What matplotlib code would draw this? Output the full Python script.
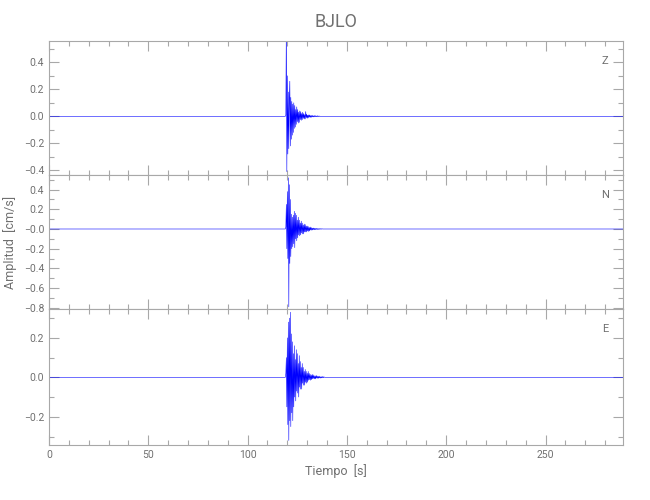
import numpy as np
import matplotlib
matplotlib.use('Agg')
import matplotlib.pyplot as plt
from matplotlib.ticker import MultipleLocator, FixedLocator, FixedFormatter

plt.rcParams['font.family'] = ['Roboto', 'DejaVu Sans']

# Traza: muestras cada 0.25 s a partir de t0 (amplitudes)
t0 = 119.0
dt = 0.25
t_fin = 289.0

z_amp = [0.0, 0.01, 0.70, -0.41,
         0.30, -0.28, 0.18, -0.24,
         0.12, 0.26, -0.22, 0.14,
         -0.17, 0.11, -0.14, 0.09,
         -0.12, 0.10, -0.09, 0.08,
         -0.08, 0.05, -0.06, 0.07,
         -0.04, 0.05, -0.05, 0.03,
         -0.045, 0.04, -0.025, 0.035,
         -0.03, 0.02, -0.025, 0.03,
         -0.015, 0.02, -0.02, 0.012,
         -0.02, 0.035, -0.01, 0.015,
         -0.015, 0.008, -0.012, 0.01,
         -0.006, 0.01, -0.008, 0.005,
         -0.008, 0.006, -0.004, 0.006,
         -0.005, 0.003, -0.004, 0.005,
         -0.003, 0.004, -0.003, 0.002,
         -0.003, 0.004, -0.002, 0.002,
         -0.002, 0.002, 0.0]

n_amp = [0.0, 0.02, 0.25, -0.20,
         0.38, -0.30, 0.52, -0.79,
         0.45, -0.35, 0.30, -0.28,
         0.15, -0.20, 0.12, -0.18,
         0.14, -0.15, 0.18, -0.19,
         0.16, -0.10, 0.14, -0.12,
         0.09, -0.09, 0.12, -0.06,
         0.09, -0.07, 0.06, -0.06,
         0.08, -0.04, 0.06, -0.05,
         0.04, -0.05, 0.05, -0.03,
         0.045, -0.03, 0.03, -0.03,
         0.03, -0.02, 0.025, -0.025,
         0.015, -0.02, 0.02, -0.01,
         0.015, -0.012, 0.008, -0.01,
         0.01, -0.006, 0.008, -0.008,
         0.005, -0.006, 0.006, -0.004,
         0.005, -0.005, 0.003, -0.004,
         0.004, -0.003, 0.003, -0.002,
         0.003, -0.002, 0.002, 0.0]

e_amp = [0.0, 0.02, 0.10, -0.15,
         0.20, -0.24, 0.28, -0.32,
         0.30, -0.22, 0.33, -0.25,
         0.22, -0.18, 0.18, -0.22,
         0.12, -0.15, 0.16, -0.10,
         0.09, -0.12, 0.14, -0.07,
         0.12, -0.08, 0.07, -0.10,
         0.11, -0.05, 0.08, -0.06,
         0.05, -0.06, 0.07, -0.03,
         0.05, -0.04, 0.03, -0.04,
         0.04, -0.025, 0.03, -0.03,
         0.02, -0.025, 0.03, -0.015,
         0.02, -0.012, 0.015, -0.015,
         0.01, -0.012, 0.015, -0.008,
         0.012, -0.006, 0.008, -0.008,
         0.005, -0.008, 0.01, -0.004,
         0.006, -0.005, 0.004, -0.005,
         0.006, -0.003, 0.003, -0.004,
         0.002, -0.003, 0.004, -0.002,
         0.003, -0.002, 0.002, 0.0]

componentes = ['Z', 'N', 'E']
trazas = [z_amp, n_amp, e_amp]
ylims = [(-0.435, 0.56), (-0.812, 0.548), (-0.343, 0.346)]
yticks = [[-0.4, -0.2, 0.0, 0.2, 0.4],
          [-0.8, -0.6, -0.4, -0.2, 0.0, 0.2, 0.4],
          [-0.2, 0.0, 0.2]]
ylabels = [['\u22120.4', '\u22120.2', '0.0', '0.2', '0.4'],
           ['\u22120.8', '\u22120.6', '\u22120.4', '\u22120.2', '\u22120.0', '0.2', '0.4'],
           ['\u22120.2', '0.0', '0.2']]
xtick_vals = [0, 50, 100, 150, 200, 250]

gris_txt = '#707070'
gris_eje = '#a8a8a8'

fig = plt.figure(figsize=(6.5, 5), dpi=100)
posiciones = [[0.0754, 0.650, 0.883, 0.2686],
              [0.0754, 0.382, 0.883, 0.268],
              [0.0754, 0.110, 0.883, 0.272]]

for i in range(3):
    ax = fig.add_axes(posiciones[i])
    amp = np.array(trazas[i])
    t = t0 + dt*np.arange(len(amp))
    tt = np.concatenate(([0.0], t, [t_fin]))
    aa = np.concatenate(([0.0], amp, [0.0]))
    ax.plot(tt, aa, color='#0000ff', lw=0.4)
    ax.set_xlim(0, t_fin)
    ax.set_ylim(*ylims[i])
    ax.xaxis.set_major_locator(FixedLocator(xtick_vals))
    ax.xaxis.set_minor_locator(MultipleLocator(10))
    ax.yaxis.set_major_locator(FixedLocator(yticks[i]))
    ax.yaxis.set_major_formatter(FixedFormatter(ylabels[i]))
    ax.yaxis.set_minor_locator(MultipleLocator(0.1))
    ax.tick_params(which='both', direction='in', top=True, right=True,
                   color=gris_eje, labelcolor=gris_txt, labelsize=7.5, width=0.8)
    ax.tick_params(which='major', length=7)
    ax.tick_params(which='minor', length=3.5)
    for s in ax.spines.values():
        s.set_color(gris_eje)
        s.set_linewidth(0.8)
    if i < 2:
        ax.tick_params(labelbottom=False)
    else:
        ax.set_xlabel('Tiempo  [s]', color=gris_txt, fontsize=9, labelpad=3)
    if i == 1:
        ax.set_ylabel('Amplitud  [cm/s]', color=gris_txt, fontsize=9)
        ax.yaxis.set_label_coords(-0.056, 0.5)
    if i == 0:
        ax.set_title('BJLO', color=gris_txt, fontsize=13, pad=10)
    ax.text(0.975, 0.85, componentes[i], transform=ax.transAxes, ha='right',
            va='center', color=gris_txt, fontsize=8)

fig.savefig('out.png', dpi=100)
